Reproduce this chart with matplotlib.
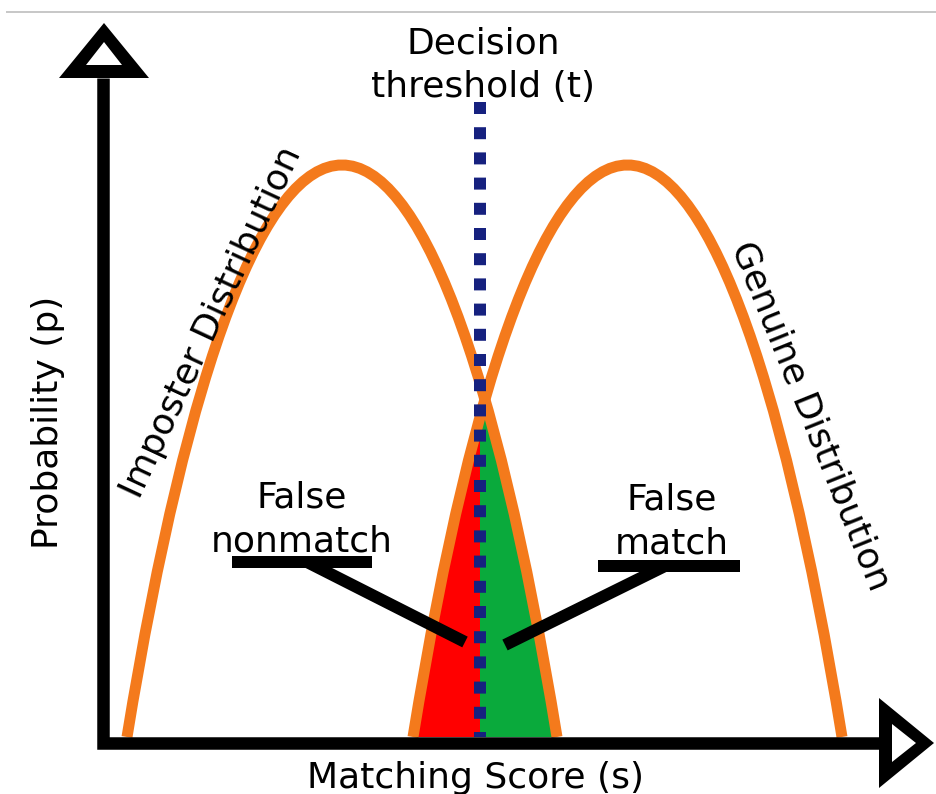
import matplotlib
matplotlib.use('Agg')
import matplotlib.pyplot as plt
from matplotlib.path import Path
from matplotlib.patches import PathPatch, Rectangle, Polygon

# distributions (pixel units, y grows downwards)
dist_names = ['Imposter Distribution', 'Genuine Distribution']
dist_left = [127, 413]
dist_right = [557, 842]
dist_peak = [165, 165]
base_y = 737
threshold_x = 480
crossing_x = 486

orange = '#F47A1C'
px = 72 / 100.0  # points per pixel

fig = plt.figure(figsize=(9.37, 7.94), dpi=100)
ax = fig.add_axes([0, 0, 1, 1])
ax.set_xlim(0, 937)
ax.set_ylim(794, 0)
ax.axis('off')


def arch(left, right, peak, closed=False):
    # symmetric cubic bezier arch
    half = (right - left) / 2.0
    ctrl_y = base_y - 4.0 / 3.0 * (base_y - peak)
    d = 0.58
    verts = [(left, base_y), (left + half * d, ctrl_y), (right - half * d, ctrl_y), (right, base_y)]
    codes = [Path.MOVETO, Path.CURVE4, Path.CURVE4, Path.CURVE4]
    if closed:
        verts.append((left, base_y))
        codes.append(Path.CLOSEPOLY)
    return Path(verts, codes)


imp_clip = PathPatch(arch(dist_left[0], dist_right[0], dist_peak[0], True), transform=ax.transData)
gen_clip = PathPatch(arch(dist_left[1], dist_right[1], dist_peak[1], True), transform=ax.transData)

# false nonmatch area (left of threshold, under genuine)
r = Rectangle((dist_left[1] - 10, 200), threshold_x - dist_left[1] + 10, base_y - 200,
              facecolor='#FF0000', edgecolor='none', zorder=1)
ax.add_patch(r)
r.set_clip_path(gen_clip)
# false match area (right of threshold, under both)
g1 = Rectangle((threshold_x, 200), crossing_x - threshold_x, base_y - 200,
               facecolor='#0AAA3C', edgecolor='none', zorder=1)
ax.add_patch(g1)
g1.set_clip_path(gen_clip)
g2 = Rectangle((crossing_x, 200), dist_right[0] - crossing_x + 10, base_y - 200,
               facecolor='#0AAA3C', edgecolor='none', zorder=1)
ax.add_patch(g2)
g2.set_clip_path(imp_clip)

# the two curves
for i in range(len(dist_names)):
    ax.add_patch(PathPatch(arch(dist_left[i], dist_right[i], dist_peak[i]), facecolor='none',
                           edgecolor=orange, lw=11 * px, capstyle='butt', zorder=2))

# decision threshold
ax.plot([threshold_x, threshold_x], [102, base_y], color='#16217F', lw=12 * px,
        linestyle=(0, (1, 1.1)), dash_capstyle='butt', zorder=3)

# pointers
ax.plot([232, 372], [562, 562], color='black', lw=12 * px, solid_capstyle='butt', zorder=4)
ax.plot([307, 465], [562, 642], color='black', lw=12 * px, solid_capstyle='butt', zorder=4)
ax.plot([598, 740], [566, 566], color='black', lw=12 * px, solid_capstyle='butt', zorder=4)
ax.plot([665, 505], [566, 645], color='black', lw=12 * px, solid_capstyle='butt', zorder=4)

# axes with arrows
ax.plot([103, 103, 879], [78, 743, 743], color='black', lw=12.5 * px,
        solid_joinstyle='miter', solid_capstyle='butt', zorder=5)
ax.add_patch(Polygon([(104, 23), (59, 78), (149, 78)], closed=True, facecolor='black', edgecolor='none', zorder=5))
ax.add_patch(Polygon([(104, 42), (86, 65), (122, 65)], closed=True, facecolor='white', edgecolor='none', zorder=6))
ax.add_patch(Polygon([(934, 743), (879, 698), (879, 788)], closed=True, facecolor='black', edgecolor='none', zorder=5))
ax.add_patch(Polygon([(916, 743), (892, 724), (892, 762)], closed=True, facecolor='white', edgecolor='none', zorder=6))

# thin grey rule at the top
ax.plot([7, 937], [12, 12], color='#C8C8C8', lw=2 * px)

fs = 26
ax.text(483, 53, 'Decision', fontsize=fs, ha='center', va='baseline')
ax.text(483, 97, 'threshold (t)', fontsize=fs, ha='center', va='baseline')
ax.text(302, 508, 'False', fontsize=fs, ha='center', va='baseline')
ax.text(302, 552, 'nonmatch', fontsize=fs, ha='center', va='baseline')
ax.text(672, 510, 'False', fontsize=fs, ha='center', va='baseline')
ax.text(672, 553, 'match', fontsize=fs, ha='center', va='baseline')
ax.text(48, 422, 'Probability (p)', fontsize=fs, ha='center', va='center', rotation=90)
ax.text(476, 788, 'Matching Score (s)', fontsize=fs, ha='center', va='baseline')
ax.text(212, 322, dist_names[0], fontsize=fs, ha='center', va='center',
        rotation=65, rotation_mode='anchor')
ax.text(811, 416, dist_names[1], fontsize=fs, ha='center', va='center',
        rotation=-68, rotation_mode='anchor')

fig.savefig('out.png', dpi=100)
